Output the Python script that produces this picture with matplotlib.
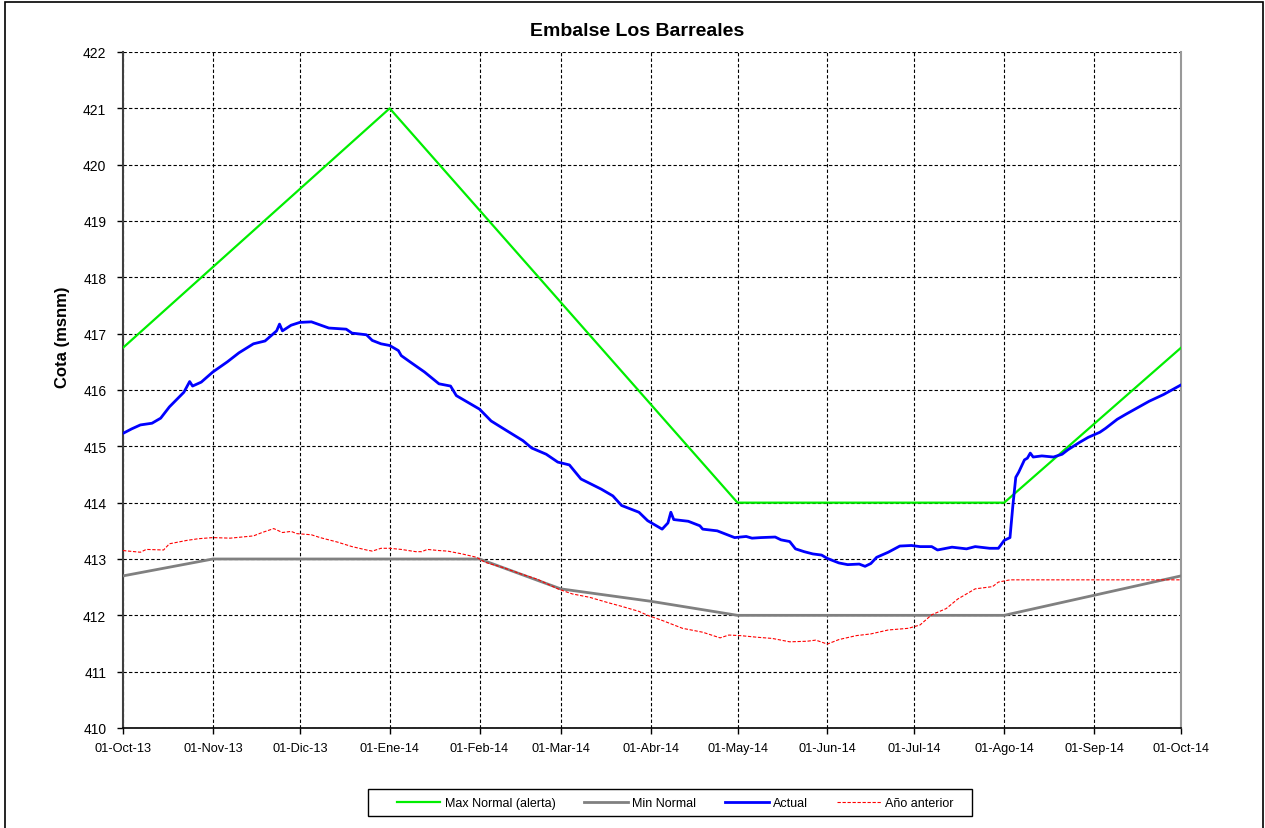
import matplotlib
matplotlib.use("Agg")
import matplotlib.pyplot as plt
import matplotlib.patches as mpatches
import pandas as pd

plt.rcParams['font.family'] = ['Liberation Sans', 'DejaVu Sans']

# ---------------- data ----------------
max_dates = ["2013-10-01", "2014-01-01", "2014-05-01", "2014-08-01", "2014-10-01"]
max_vals = [416.75, 421.0, 414.0, 414.0, 416.75]

min_dates = ["2013-10-01", "2013-11-01", "2014-02-01", "2014-03-01", "2014-04-01",
             "2014-05-01", "2014-08-01", "2014-10-01"]
min_vals = [412.7, 413.0, 413.0, 412.47, 412.25, 412.0, 412.0, 412.7]

actual_dates = [
    "2013-10-01", "2013-10-04", "2013-10-07", "2013-10-11", "2013-10-14", "2013-10-17",
    "2013-10-22", "2013-10-24", "2013-10-25", "2013-10-28", "2013-11-01", "2013-11-06",
    "2013-11-10", "2013-11-15", "2013-11-19", "2013-11-23", "2013-11-24", "2013-11-25",
    "2013-11-28", "2013-12-01", "2013-12-05", "2013-12-11", "2013-12-17", "2013-12-19",
    "2013-12-24", "2013-12-26", "2013-12-29", "2014-01-01", "2014-01-04", "2014-01-05",
    "2014-01-08", "2014-01-13", "2014-01-18", "2014-01-22", "2014-01-24", "2014-01-29",
    "2014-02-01", "2014-02-05", "2014-02-10", "2014-02-16", "2014-02-19", "2014-02-24",
    "2014-02-28", "2014-03-04", "2014-03-08", "2014-03-15", "2014-03-19", "2014-03-22",
    "2014-03-28", "2014-03-31", "2014-04-05", "2014-04-07", "2014-04-08", "2014-04-09",
    "2014-04-14", "2014-04-18", "2014-04-19", "2014-04-24", "2014-04-30", "2014-05-04",
    "2014-05-06", "2014-05-09", "2014-05-14", "2014-05-16", "2014-05-19", "2014-05-21",
    "2014-05-24", "2014-05-27", "2014-05-30", "2014-06-01", "2014-06-05", "2014-06-08",
    "2014-06-12", "2014-06-14", "2014-06-16", "2014-06-18", "2014-06-22", "2014-06-26",
    "2014-06-30", "2014-07-03", "2014-07-07", "2014-07-09", "2014-07-14", "2014-07-19",
    "2014-07-22", "2014-07-27", "2014-07-30", "2014-08-01", "2014-08-03", "2014-08-04",
    "2014-08-05", "2014-08-06", "2014-08-08", "2014-08-09", "2014-08-10", "2014-08-11",
    "2014-08-14", "2014-08-18", "2014-08-21", "2014-08-23", "2014-08-27", "2014-08-30",
    "2014-09-03", "2014-09-05", "2014-09-09", "2014-09-12", "2014-09-20", "2014-09-25",
    "2014-10-01"]
actual_vals = [
    415.23, 415.31, 415.38, 415.41, 415.50, 415.70,
    415.96, 416.15, 416.07, 416.14, 416.32, 416.50,
    416.66, 416.82, 416.87, 417.05, 417.17, 417.05,
    417.15, 417.20, 417.21, 417.10, 417.08, 417.01,
    416.98, 416.88, 416.82, 416.79, 416.70, 416.61,
    416.50, 416.32, 416.11, 416.07, 415.90, 415.75,
    415.66, 415.45, 415.29, 415.10, 414.97, 414.86,
    414.72, 414.67, 414.42, 414.24, 414.12, 413.95,
    413.83, 413.68, 413.53, 413.64, 413.83, 413.70,
    413.67, 413.59, 413.53, 413.50, 413.38, 413.40,
    413.37, 413.38, 413.39, 413.34, 413.31, 413.18,
    413.13, 413.09, 413.07, 413.01, 412.93, 412.90,
    412.91, 412.87, 412.92, 413.03, 413.12, 413.23,
    413.24, 413.22, 413.22, 413.16, 413.21, 413.18,
    413.22, 413.19, 413.19, 413.33, 413.38, 413.95,
    414.45, 414.54, 414.76, 414.79, 414.88, 414.81,
    414.83, 414.81, 414.86, 414.94, 415.07, 415.16,
    415.25, 415.32, 415.48, 415.57, 415.80, 415.92,
    416.09]

prev_dates = [
    "2013-10-01", "2013-10-07", "2013-10-09", "2013-10-15", "2013-10-17", "2013-10-23",
    "2013-10-27", "2013-11-01", "2013-11-07", "2013-11-09", "2013-11-15", "2013-11-18",
    "2013-11-22", "2013-11-25", "2013-11-28", "2013-11-30", "2013-12-05", "2013-12-08",
    "2013-12-14", "2013-12-19", "2013-12-24", "2013-12-26", "2013-12-29", "2014-01-01",
    "2014-01-05", "2014-01-10", "2014-01-12", "2014-01-14", "2014-01-18", "2014-01-21",
    "2014-01-26", "2014-01-31", "2014-02-03", "2014-02-09", "2014-02-15", "2014-02-21",
    "2014-02-28", "2014-03-05", "2014-03-11", "2014-03-17", "2014-03-22", "2014-03-28",
    "2014-03-31", "2014-04-05", "2014-04-12", "2014-04-19", "2014-04-25", "2014-04-28",
    "2014-05-02", "2014-05-08", "2014-05-13", "2014-05-19", "2014-05-25", "2014-05-28",
    "2014-06-01", "2014-06-05", "2014-06-11", "2014-06-16", "2014-06-22", "2014-06-29",
    "2014-07-03", "2014-07-07", "2014-07-12", "2014-07-16", "2014-07-22", "2014-07-28",
    "2014-07-30", "2014-08-03", "2014-10-01"]
prev_vals = [
    413.15, 413.12, 413.17, 413.16, 413.27, 413.33,
    413.36, 413.38, 413.37, 413.38, 413.41, 413.47,
    413.54, 413.47, 413.49, 413.45, 413.43, 413.38,
    413.30, 413.22, 413.16, 413.14, 413.19, 413.19,
    413.17, 413.13, 413.13, 413.17, 413.15, 413.14,
    413.09, 413.03, 412.94, 412.85, 412.74, 412.64,
    412.47, 412.38, 412.32, 412.23, 412.16, 412.07,
    412.00, 411.91, 411.77, 411.70, 411.60, 411.65,
    411.64, 411.61, 411.59, 411.53, 411.54, 411.56,
    411.49, 411.57, 411.64, 411.67, 411.74, 411.77,
    411.83, 412.01, 412.12, 412.29, 412.47, 412.51,
    412.59, 412.63, 412.63]

tick_dates = ["2013-10-01", "2013-11-01", "2013-12-01", "2014-01-01", "2014-02-01",
              "2014-03-01", "2014-04-01", "2014-05-01", "2014-06-01", "2014-07-01",
              "2014-08-01", "2014-09-01", "2014-10-01"]
tick_labels = ["01-Oct-13", "01-Nov-13", "01-Dic-13", "01-Ene-14", "01-Feb-14",
               "01-Mar-14", "01-Abr-14", "01-May-14", "01-Jun-14", "01-Jul-14",
               "01-Ago-14", "01-Sep-14", "01-Oct-14"]
y_ticks = list(range(410, 423))

title = "Embalse Los Barreales"
ylabel = "Cota (msnm)"
series_names = ["Max Normal (alerta)", "Min Normal", "Actual", "Año anterior"]

# ---------------- figure ----------------
W, H = 1265, 829
fig = plt.figure(figsize=(W / 100, H / 100), dpi=100)
ax = fig.add_axes([123 / W, 1 - 729 / H, (1181 - 123) / W, (729 - 53) / H])

td = pd.to_datetime
l1, = ax.plot(td(max_dates), max_vals, color="#00ee00", lw=1.6, zorder=3)
l2, = ax.plot(td(min_dates), min_vals, color="#808080", lw=2.0, zorder=3)
l3, = ax.plot(td(actual_dates), actual_vals, color="#0000ff", lw=2.0, zorder=4)
l4, = ax.plot(td(prev_dates), prev_vals, color="#ff0000", lw=0.8,
              linestyle=(0, (3, 1.5)), zorder=3)

ax.set_xlim(td("2013-10-01"), td("2014-10-01"))
ax.set_ylim(410, 422)
ax.set_xticks(td(tick_dates))
ax.set_xticklabels(tick_labels, fontsize=9.2)
ax.set_yticks(y_ticks)
ax.set_yticklabels([str(v) for v in y_ticks], fontsize=10)
ax.tick_params(axis="both", direction="out", length=4, width=1, color="black")
ax.tick_params(axis="x", pad=6)
ax.tick_params(axis="y", pad=8)

ax.grid(True, color="black", linestyle=(0, (3, 2)), linewidth=0.8)
ax.set_axisbelow(True)
ax.spines["top"].set_visible(False)
ax.spines["right"].set_color("#999999")
ax.spines["right"].set_linestyle((0, (3, 1)))
ax.spines["right"].set_linewidth(1.5)
ax.spines["left"].set_color("#404040")
ax.spines["left"].set_linewidth(1.5)
ax.spines["bottom"].set_color("black")
ax.spines["bottom"].set_linewidth(1.2)

fig.text(637 / W, 1 - 32 / H, title, ha="center", va="center",
         fontsize=14, fontweight="bold")
fig.text(62 / W, 1 - 337 / H, ylabel, ha="center", va="center",
         rotation=90, fontsize=12, fontweight="bold")

# legend
fig.legend([l1, l2, l3, l4], series_names, loc="center", ncol=4,
           bbox_to_anchor=(675 / W, 1 - 804 / H), frameon=False,
           fontsize=9, handlelength=3.5, handletextpad=0.35, columnspacing=2.3)
fig.patches.append(mpatches.Rectangle((368 / W, 1 - 817 / H), (972 - 368) / W, 27 / H,
                                      transform=fig.transFigure, fill=False,
                                      edgecolor="black", lw=1.0))
# outer frame
fig.patches.append(mpatches.Rectangle((5 / W, -0.01), (1263 - 5) / W, 1.01 - 3 / H,
                                      transform=fig.transFigure, fill=False,
                                      edgecolor="black", lw=1.2, clip_on=False))

fig.savefig("out.png", dpi=100)
